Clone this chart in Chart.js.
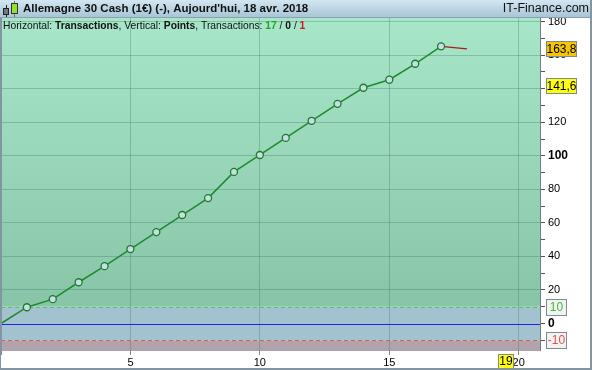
<!DOCTYPE html>
<html>
<head>
<meta charset="utf-8">
<script src="https://cdn.jsdelivr.net/npm/chart.js@4/dist/chart.umd.min.js"></script>
<style>
  html, body { margin: 0; padding: 0; background: #fff; }
  canvas { display: block; }
</style>
</head>
<body>
<canvas id="equityChart" width="592" height="370"></canvas>
<script>
// data
var tradeNumbers = [0, 1, 2, 3, 4, 5, 6, 7, 8, 9, 10, 11, 12, 13, 14, 15, 16, 17];
var equityPoints = [0, 9.7, 14.5, 24.6, 34.2, 44.4, 54.5, 64.7, 74.8, 90.4, 100.5, 110.7, 120.9, 131.0, 140.6, 145.4, 154.9, 165.3];
var openTradeX = [17, 18];
var openTradeY = [165.3, 163.8];
var levelValues = [10, 0, -10];
var priceTags = [163.8, 141.6];
var currentTrade = 19;
var xRange = [0, 20.86];
var yRange = [-16.4, 182.2];
var titleText = "Allemagne 30 Cash (1\u20ac) (-), Aujourd'hui, 18 avr. 2018";
var siteText = 'IT-Finance.com';
var tradeCounts = [17, 0, 1];

var FONT = '"Liberation Sans", Arial, sans-serif';

var closedData = tradeNumbers.map(function (t, i) { return { x: t, y: equityPoints[i] }; });
var openData = openTradeX.map(function (t, i) { return { x: t, y: openTradeY[i] }; });

function box(ctx, x, y, w, h, fill, stroke) {
    ctx.fillStyle = fill;
    ctx.fillRect(x, y, w, h);
    ctx.strokeStyle = stroke;
    ctx.lineWidth = 1;
    ctx.strokeRect(x + 0.5, y + 0.5, w - 1, h - 1);
}

var decor = {
    id: 'decor',
    beforeDraw: function (chart) {
        var ctx = chart.ctx, ca = chart.chartArea, ys = chart.scales.y;
        ctx.save();
        ctx.fillStyle = '#ffffff';
        ctx.fillRect(0, 0, chart.width, chart.height);
        var y10 = ys.getPixelForValue(levelValues[0]);
        var yM10 = ys.getPixelForValue(levelValues[2]);
        var g = ctx.createLinearGradient(0, ca.top, 0, y10);
        g.addColorStop(0, '#a8e6ca');
        g.addColorStop(1, '#88c5a8');
        ctx.fillStyle = g;
        ctx.fillRect(ca.left, ca.top, ca.width, y10 - ca.top);
        ctx.fillStyle = '#a2c2cf';
        ctx.fillRect(ca.left, y10, ca.width, yM10 - y10);
        ctx.fillStyle = '#b0a3ac';
        ctx.fillRect(ca.left, yM10, ca.width, ca.bottom - yM10);
        ctx.restore();
    },
    beforeDatasetsDraw: function (chart) {
        var ctx = chart.ctx, ca = chart.chartArea, ys = chart.scales.y;
        var styles = [['#52c452', [4, 3]], ['#2222e6', []], ['#e05a5a', [4, 3]]];
        ctx.save();
        levelValues.forEach(function (v, i) {
            var y = Math.round(ys.getPixelForValue(v)) + 0.5;
            ctx.strokeStyle = styles[i][0];
            ctx.setLineDash(styles[i][1]);
            ctx.lineWidth = 1;
            ctx.beginPath();
            ctx.moveTo(ca.left, y);
            ctx.lineTo(ca.right, y);
            ctx.stroke();
        });
        ctx.restore();
    },
    afterDraw: function (chart) {
        var ctx = chart.ctx, ca = chart.chartArea, ys = chart.scales.y, xs = chart.scales.x;
        var W = chart.width, H = chart.height;
        ctx.save();

        // header strip
        var hg = ctx.createLinearGradient(0, 0, 0, 18);
        hg.addColorStop(0, '#d3e6f2');
        hg.addColorStop(1, '#a6c3d4');
        ctx.fillStyle = hg;
        ctx.fillRect(0, 0, W, 18);
        ctx.fillStyle = '#8aa2b0';
        ctx.fillRect(0, 17, W, 1);

        // little candles icon
        ctx.fillStyle = '#222';
        ctx.fillRect(6, 5, 1, 12);
        box(ctx, 3, 8, 6, 7, '#777', '#222');
        ctx.fillRect(14, 1, 1, 16);
        box(ctx, 11, 3, 7, 11, '#98e030', '#333');

        ctx.textBaseline = 'middle';
        ctx.fillStyle = '#101010';
        ctx.font = 'bold 11.5px ' + FONT;
        ctx.textAlign = 'left';
        ctx.fillText(titleText, 23, 9);
        ctx.font = '12.5px ' + FONT;
        ctx.textAlign = 'right';
        ctx.fillText(siteText, W - 3, 9);

        // subtitle inside the plot
        var parts = [
            ['Horizontal: ', 'normal', '#101010'],
            ['Transactions', 'bold', '#101010'],
            [', Vertical: ', 'normal', '#101010'],
            ['Points', 'bold', '#101010'],
            [', Transactions: ', 'normal', '#101010'],
            [String(tradeCounts[0]), 'bold', '#1ea81e'],
            [' / ', 'normal', '#101010'],
            [String(tradeCounts[1]), 'bold', '#101010'],
            [' / ', 'normal', '#101010'],
            [String(tradeCounts[2]), 'bold', '#d01818']
        ];
        ctx.textAlign = 'left';
        var x = 3;
        parts.forEach(function (p) {
            ctx.font = p[1] + ' 10.3px ' + FONT;
            ctx.fillStyle = p[2];
            ctx.fillText(p[0], x, 26);
            x += ctx.measureText(p[0]).width;
        });

        // value tags on the right axis
        ctx.font = '12px ' + FONT;
        ctx.textAlign = 'center';
        var tagFill = ['#f6c700', '#ffff14'];
        priceTags.forEach(function (v, i) {
            var y = ys.getPixelForValue(v);
            box(ctx, ca.right + 5, Math.round(y) - 8, 31, 16, tagFill[i], '#7d8a90');
            ctx.fillStyle = '#000';
            ctx.fillText(String(v).replace('.', ','), ca.right + 20.5, y + 0.5);
        });
        var lvlColors = ['#3cc03c', '#e05050'];
        [levelValues[0], levelValues[2]].forEach(function (v, i) {
            var y = ys.getPixelForValue(v);
            box(ctx, ca.right + 5, Math.round(y) - 8, 21, 17, '#f2f2f2', '#7d8a90');
            ctx.fillStyle = lvlColors[i];
            ctx.fillText(String(v), ca.right + 15.5, y + 0.5);
        });

        // current trade marker on x axis
        var cx = xs.getPixelForValue(currentTrade);
        box(ctx, Math.round(cx) + 5, ca.bottom + 3, 16, 16, '#ffff00', '#7d8a90');
        ctx.fillStyle = '#000';
        ctx.font = '12px ' + FONT;
        ctx.fillText(String(currentTrade), Math.round(cx) + 13, ca.bottom + 11);

        // frame
        ctx.fillStyle = '#8494a0';
        ctx.fillRect(0, 18, 2, ca.bottom - 18);
        ctx.fillRect(0, ca.bottom, 1, H - ca.bottom);
        ctx.fillRect(W - 2, 0, 2, H);
        ctx.fillRect(0, H - 2, W, 2);
        ctx.fillStyle = '#6e8088';
        ctx.fillRect(Math.round(ca.right) - 1, 18, 1, ca.bottom - 18);
        ctx.restore();
    }
};

var ctx1 = document.getElementById('equityChart').getContext('2d');
var equityChart = new Chart(ctx1, {
    type: 'line',
    data: {
        datasets: [{
            label: 'Closed',
            data: closedData,
            borderColor: '#1f8a2c',
            borderWidth: 1.5,
            pointRadius: function (c) { return c.dataIndex === 0 ? 0 : 3.5; },
            pointBackgroundColor: '#c9dcea',
            pointBorderColor: '#1a7d26',
            pointBorderWidth: 1.3,
            tension: 0
        }, {
            label: 'Open',
            data: openData,
            borderColor: '#b01818',
            borderWidth: 1.3,
            pointRadius: 0,
            tension: 0
        }]
    },
    options: {
        responsive: false,
        animation: false,
        devicePixelRatio: 1,
        layout: { autoPadding: false, padding: { top: 18, left: 1, right: 0, bottom: 0 } },
        plugins: { legend: { display: false }, tooltip: { enabled: false } },
        scales: {
            x: {
                type: 'linear',
                position: 'bottom',
                min: xRange[0],
                max: xRange[1],
                afterFit: function (s) { s.height = 19; s.paddingLeft = 0; s.paddingRight = 0; },
                ticks: {
                    stepSize: 5,
                    includeBounds: false,
                    autoSkip: false,
                    maxRotation: 0,
                    padding: 1,
                    color: '#000',
                    font: { family: FONT, size: 11 },
                    callback: function (v) { return v === 0 ? '' : String(v); }
                },
                grid: {
                    color: function (c) { return c.tick && c.tick.value === 0 ? 'transparent' : 'rgba(70,120,105,0.35)'; },
                    tickColor: '#7d8a90',
                    tickLength: 4
                },
                border: { display: false }
            },
            y: {
                position: 'right',
                min: yRange[0],
                max: yRange[1],
                afterFit: function (s) { s.width = 51; s.paddingTop = 0; s.paddingBottom = 0; },
                ticks: {
                    stepSize: 10,
                    includeBounds: false,
                    autoSkip: false,
                    padding: 3,
                    color: '#000',
                    font: function (c) {
                        var v = c.tick ? c.tick.value : 1;
                        var strong = v === 0 || v === 100;
                        return { family: FONT, size: strong ? 12 : 11, weight: strong ? 'bold' : 'normal' };
                    },
                    callback: function (v) { return (v === 0 || (v > 0 && v % 20 === 0)) ? String(v) : ''; }
                },
                grid: {
                    color: function (c) {
                        var v = c.tick ? c.tick.value : 0;
                        return (v > 0 && v % 20 === 0) ? 'rgba(70,120,105,0.35)' : 'transparent';
                    },
                    tickColor: '#555',
                    tickLength: 4
                },
                border: { display: false }
            }
        }
    },
    plugins: [decor]
});
</script>
</body>
</html>
